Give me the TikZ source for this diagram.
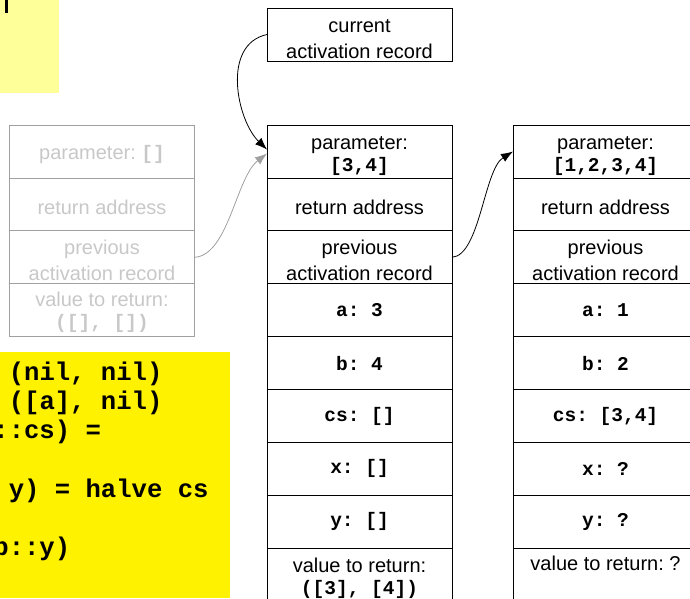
\documentclass[tikz,border=0pt]{standalone}
\usepackage{fontspec}
\setmainfont{Liberation Sans}
\setmonofont{Liberation Mono}
\usetikzlibrary{calc}
\usetikzlibrary{arrows.meta}
\frenchspacing

\definecolor{paleyellow}{HTML}{FFFF99}
\definecolor{ghost}{HTML}{C8C8C8}
\definecolor{ghostline}{HTML}{A0A0A0}
\newcommand\code[1]{{\ttfamily\bfseries\fontsize{19.5}{21}\selectfont #1}}

\tikzset{
  box/.style={draw,line width=0.8pt,minimum width=185pt,minimum height=52.9pt,
    inner sep=0pt,outer sep=0pt,align=center,font=\fontsize{20}{26}\selectfont},
  cell/.style={box,text height=20pt},
  pair/.style={box,text height=46pt},
  varcell/.style={box},
  cellmono/.style={box,text height=43.4pt,font=\fontsize{20}{22}\selectfont},
  ghostcell/.style={draw=ghostline,text=ghost},
  codeline/.style={anchor=base west,inner sep=0pt,font=\ttfamily\bfseries\fontsize{25.6}{29}\selectfont},
  ptr/.style={line width=0.8pt,-{Latex[length=12pt,width=9pt]}}
}

\begin{document}
\begin{tikzpicture}[x=1pt,y=-1pt]
\useasboundingbox (0,0) rectangle (690,598);
\clip (0,0) rectangle (690,598);

\fill[paleyellow] (0,0) rectangle (59,93); % note
\fill (5,0) rectangle (8,13); % cut glyph
\fill[yellow] (0,352) rectangle (230,598); % code

\node[codeline] (c1) at (8.6,380) {(nil, nil)};
\node[codeline] (c2) at (8.6,409) {([a], nil)};
\node[codeline] (c3) at (-6.8,438) {::cs) =};
\node[codeline] (c4) at (8.6,497) {y) = halve cs};
\node[codeline] (c5) at (-6.8,555) {b::y)};

\node[pair,text height=48.5pt] (cur) at (359.5,34.5) {current\\activation record}; % pointer box

% old record
\node[cell,ghostcell] (g1) at (102,151.5) {parameter: \code{[]}};
\node[cell,ghostcell] (g2) at (102,204.4) {return address};
\node[pair,ghostcell] (g3) at (102,257.3) {previous\\activation record};
\node[cellmono,ghostcell,text height=41pt] (g4) at (102,310.2) {value to return:\\\code{([], [])}};

% current record
\node[cellmono] (m1) at (359.5,151.5) {parameter:\\\code{[3,4]}};
\node[cell] (m2) at (359.5,204.4) {return address};
\node[pair] (m3) at (359.5,257.3) {previous\\activation record};
\node[varcell] (m4) at (359.5,310.2) {\code{a: 3}};
\node[varcell] (m5) at (359.5,363.1) {\code{b: 4}};
\node[varcell] (m6) at (359.5,416.0) {\code{cs: []}};
\node[varcell] (m7) at (359.5,468.9) {\code{x: []}};
\node[varcell] (m8) at (359.5,521.8) {\code{y: []}};
\node[cellmono] (m9) at (359.5,574.7) {value to return:\\\code{([3], [4])}};

% caller record
\node[cellmono] (r1) at (605.5,151.5) {parameter:\\\code{[1,2,3,4]}};
\node[cell] (r2) at (605.5,204.4) {return address};
\node[pair] (r3) at (605.5,257.3) {previous\\activation record};
\node[varcell] (r4) at (605.5,310.2) {\code{a: 1}};
\node[varcell] (r5) at (605.5,363.1) {\code{b: 2}};
\node[varcell] (r6) at (605.5,416.0) {\code{cs: [3,4]}};
\node[varcell] (r7) at (605.5,468.9) {\code{x: ?}};
\node[varcell] (r8) at (605.5,521.8) {\code{y: ?}};
\node[box,text height=16pt,text depth=25pt] (r9) at (605.5,574.7) {value to return: ?};

\draw[ptr,ghostline] (g3.east) .. controls ($(g3.east)+(34,-2)$) and ($(m1.west)+(-31,26)$) .. ($(m1.west)+(0,2)$);
\draw[ptr] (cur.west) .. controls ($(cur.west)+(-46,10)$) and ($(m1.west)+(-30,-31)$) .. ($(m1.west)+(0,-2)$);
\draw[ptr] (m3.east) .. controls ($(m3.east)+(28,-2)$) and ($(r1.west)+(-29,18)$) .. (r1.west);

\end{tikzpicture}
\end{document}
